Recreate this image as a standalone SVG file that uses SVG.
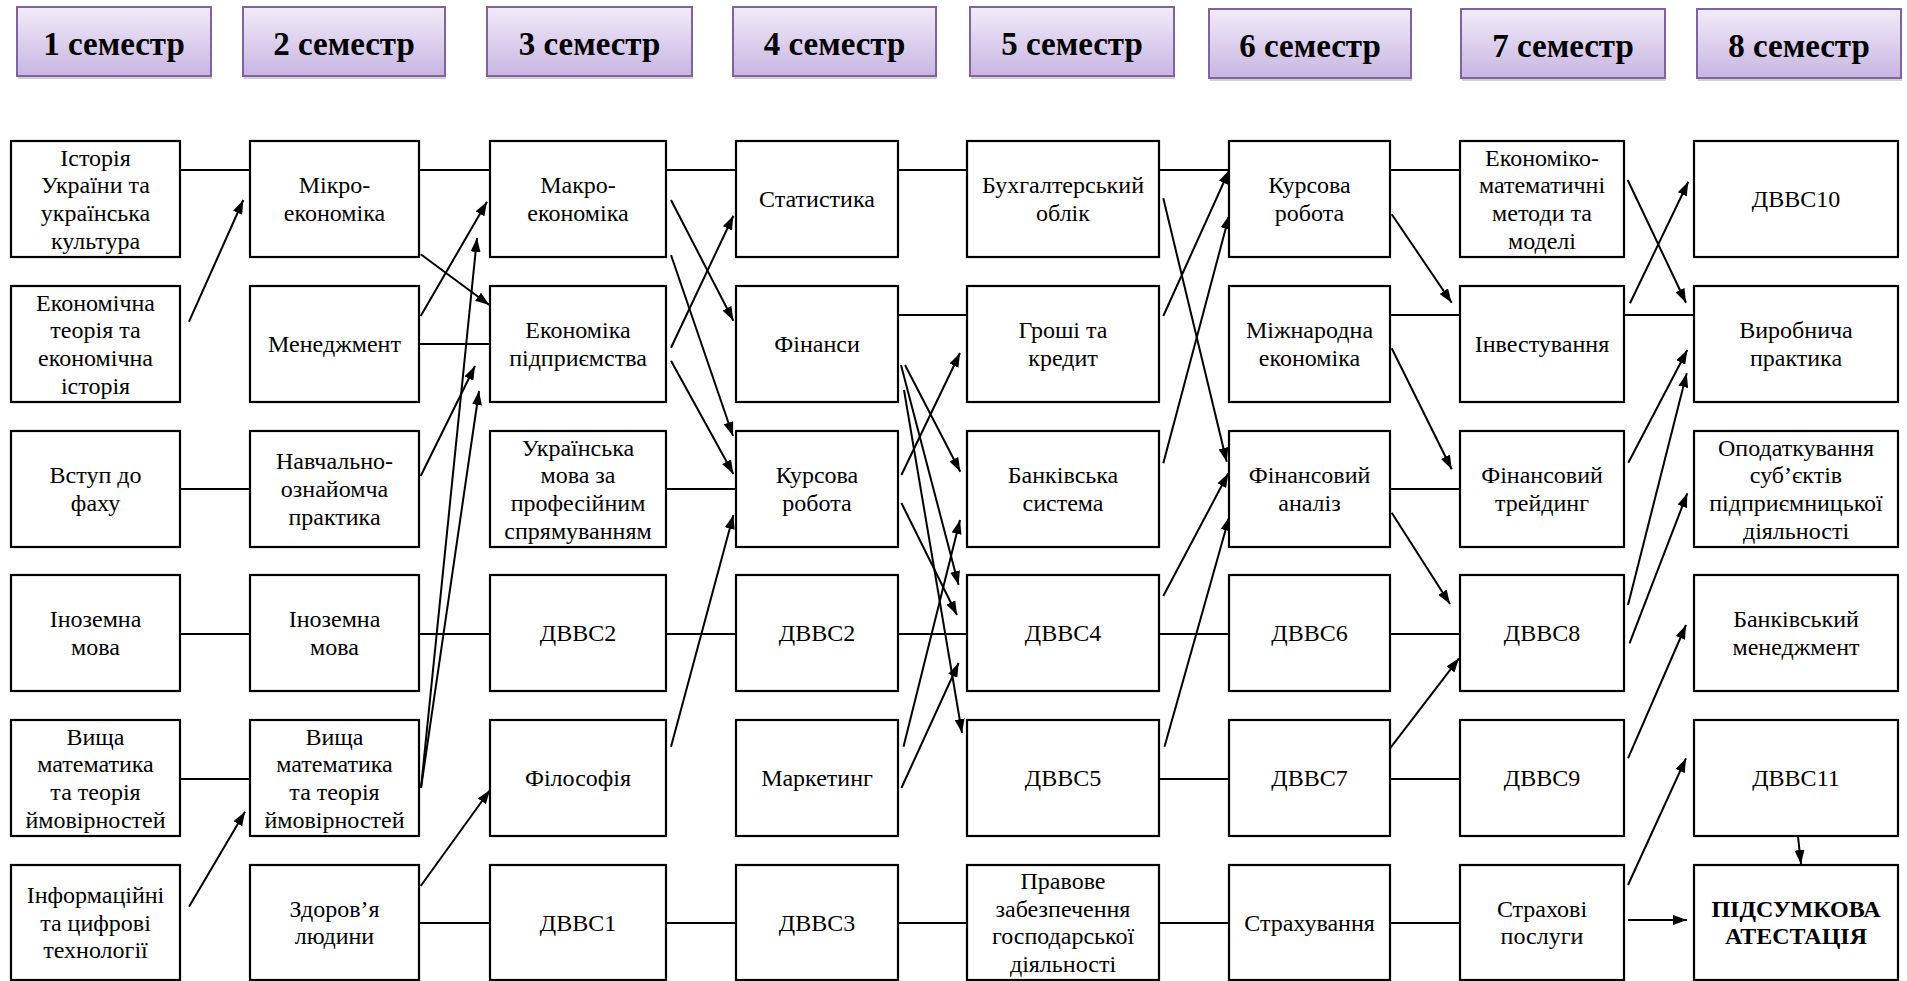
<svg xmlns="http://www.w3.org/2000/svg" width="1907" height="981" viewBox="0 0 1907 981">
<style>
.hs{fill:#000;opacity:0.18}
.hb{fill:url(#hg);stroke:#7F63A1;stroke-width:2}
.ht{font-weight:bold;font-size:33px;fill:#000;text-anchor:middle}
.nb{fill:#fff;stroke:#000;stroke-width:2.2}
.nt{font-size:24px;fill:#000;text-anchor:middle}
.bt{font-weight:bold}
.ln{stroke:#000;stroke-width:2;fill:none}
.ar{stroke:#000;stroke-width:2;fill:none;marker-end:url(#ah)}
</style>
<defs>
<linearGradient id="hg" x1="0" y1="0" x2="0" y2="1">
<stop offset="0" stop-color="#F1ECF8"/>
<stop offset="1" stop-color="#C8B5E3"/>
</linearGradient>
<marker id="ah" viewBox="0 0 14 10" refX="14" refY="5" markerWidth="14" markerHeight="10" markerUnits="userSpaceOnUse" orient="auto">
<path d="M0,0 L14,5 L0,10 z" fill="#000"/>
</marker>
</defs>
<rect width="1907" height="981" fill="#fff"/>

<g id="headers" font-family="Liberation Serif, serif">
<g id="h1"><rect class="hs" x="18" y="10" width="194" height="69"/><rect class="hb" x="17" y="7" width="194" height="69"/><text class="ht" x="114" y="55">1 семестр</text></g>
<g id="h2"><rect class="hs" x="244" y="10" width="202" height="69"/><rect class="hb" x="243" y="7" width="202" height="69"/><text class="ht" x="344" y="55">2 семестр</text></g>
<g id="h3"><rect class="hs" x="488" y="10" width="205" height="69"/><rect class="hb" x="487" y="7" width="205" height="69"/><text class="ht" x="589.5" y="55">3 семестр</text></g>
<g id="h4"><rect class="hs" x="734" y="10" width="203" height="69"/><rect class="hb" x="733" y="7" width="203" height="69"/><text class="ht" x="834.5" y="55">4 семестр</text></g>
<g id="h5"><rect class="hs" x="971" y="10" width="204" height="69"/><rect class="hb" x="970" y="7" width="204" height="69"/><text class="ht" x="1072" y="55">5 семестр</text></g>
<g id="h6"><rect class="hs" x="1210" y="12" width="202" height="69"/><rect class="hb" x="1209" y="9" width="202" height="69"/><text class="ht" x="1310" y="57">6 семестр</text></g>
<g id="h7"><rect class="hs" x="1462" y="12" width="204" height="69"/><rect class="hb" x="1461" y="9" width="204" height="69"/><text class="ht" x="1563" y="57">7 семестр</text></g>
<g id="h8"><rect class="hs" x="1698" y="12" width="204" height="69"/><rect class="hb" x="1697" y="9" width="204" height="69"/><text class="ht" x="1799" y="57">8 семестр</text></g>
</g>

<g id="connectors">
<path class="ln" d="M180,170H250 M419,170H490 M666,170H736 M898,170H967 M1159,170H1229 M1390,170H1460"/>
<path class="ln" d="M419,344H490 M898,315H967 M1390,315H1460 M1624,315H1694"/>
<path class="ln" d="M180,489H250 M666,489H736 M1390,489H1460"/>
<path class="ln" d="M180,634H250 M419,634H490 M666,634H736 M898,634H967 M1159,634H1229 M1390,634H1460"/>
<path class="ln" d="M180,779H250 M1159,779H1229 M1390,779H1460"/>
<path class="ln" d="M419,923H490 M666,923H736 M898,923H967 M1159,923H1229 M1390,923H1460"/>
<line class="ar" x1="189" y1="321.7" x2="243.3" y2="200"/>
<line class="ar" x1="420.7" y1="254.3" x2="489.3" y2="305"/>
<line class="ar" x1="420.7" y1="316" x2="487" y2="201.7"/>
<line class="ar" x1="421" y1="788" x2="477" y2="238"/>
<line class="ar" x1="420.7" y1="476" x2="475" y2="366"/>
<line class="ar" x1="421" y1="788" x2="479" y2="391"/>
<line class="ar" x1="189" y1="906.7" x2="245" y2="811.7"/>
<line class="ar" x1="420.7" y1="886" x2="490" y2="790"/>
<line class="ar" x1="671" y1="200" x2="733.4" y2="320.7"/>
<line class="ar" x1="671" y1="255" x2="733" y2="436"/>
<line class="ar" x1="671" y1="347.7" x2="733.4" y2="215.7"/>
<line class="ar" x1="671" y1="360.7" x2="733.4" y2="474"/>
<line class="ar" x1="671" y1="746.7" x2="733.4" y2="515"/>
<line class="ar" x1="901.4" y1="475" x2="960" y2="353"/>
<line class="ar" x1="905" y1="365" x2="960.3" y2="471.7"/>
<line class="ar" x1="901" y1="365" x2="958.6" y2="585"/>
<line class="ar" x1="901.4" y1="503" x2="957" y2="615"/>
<line class="ar" x1="904" y1="390" x2="962" y2="733"/>
<line class="ar" x1="903.5" y1="746.7" x2="960" y2="520"/>
<line class="ar" x1="901.4" y1="788" x2="958.6" y2="663"/>
<line class="ar" x1="1163.3" y1="198.3" x2="1226.7" y2="461.7"/>
<line class="ar" x1="1163.3" y1="316" x2="1229.3" y2="170"/>
<line class="ar" x1="1163.3" y1="463.3" x2="1229.3" y2="215"/>
<line class="ar" x1="1163.3" y1="596" x2="1228.3" y2="473.3"/>
<line class="ar" x1="1164.5" y1="746.7" x2="1229.3" y2="516.7"/>
<line class="ar" x1="1391.7" y1="214.3" x2="1451.7" y2="302.7"/>
<line class="ar" x1="1391.7" y1="348.3" x2="1451.7" y2="469.3"/>
<line class="ar" x1="1391.7" y1="512.7" x2="1450" y2="604"/>
<line class="ar" x1="1390" y1="748.3" x2="1459" y2="658.3"/>
<line class="ar" x1="1627.7" y1="180" x2="1686" y2="302.7"/>
<line class="ar" x1="1630" y1="303.3" x2="1688.3" y2="181.7"/>
<line class="ar" x1="1628.3" y1="462.7" x2="1687.3" y2="350"/>
<line class="ar" x1="1628" y1="605" x2="1686.7" y2="373.3"/>
<line class="ar" x1="1629.5" y1="643.3" x2="1687.3" y2="493.3"/>
<line class="ar" x1="1628" y1="758.3" x2="1686" y2="625"/>
<line class="ar" x1="1628" y1="885" x2="1686" y2="758.3"/>
<line class="ar" x1="1628" y1="920" x2="1687" y2="920" stroke-width="3.2"/>
<line class="ar" x1="1798" y1="836.7" x2="1801" y2="864"/>
</g>

<g id="nodes" font-family="Liberation Serif, serif">
<g id="c1r1"><rect class="nb" x="11" y="141" width="169" height="116"/><text class="nt"><tspan x="95.5" y="165.5">Історія</tspan><tspan x="95.5" y="193.2">України та</tspan><tspan x="95.5" y="220.9">українська</tspan><tspan x="95.5" y="248.6">культура</tspan></text></g>
<g id="c1r2"><rect class="nb" x="11" y="286" width="169" height="116"/><text class="nt"><tspan x="95.5" y="310.5">Економічна</tspan><tspan x="95.5" y="338.2">теорія та</tspan><tspan x="95.5" y="365.9">економічна</tspan><tspan x="95.5" y="393.6">історія</tspan></text></g>
<g id="c1r3"><rect class="nb" x="11" y="431" width="169" height="116"/><text class="nt"><tspan x="95.5" y="483.2">Вступ до</tspan><tspan x="95.5" y="510.9">фаху</tspan></text></g>
<g id="c1r4"><rect class="nb" x="11" y="575" width="169" height="116"/><text class="nt"><tspan x="95.5" y="627.2">Іноземна</tspan><tspan x="95.5" y="654.9">мова</tspan></text></g>
<g id="c1r5"><rect class="nb" x="11" y="720" width="169" height="116"/><text class="nt"><tspan x="95.5" y="744.5">Вища</tspan><tspan x="95.5" y="772.2">математика</tspan><tspan x="95.5" y="799.9">та теорія</tspan><tspan x="95.5" y="827.6">ймовірностей</tspan></text></g>
<g id="c1r6"><rect class="nb" x="11" y="865" width="169" height="115"/><text class="nt"><tspan x="95.5" y="902.8">Інформаційні</tspan><tspan x="95.5" y="930.5">та цифрові</tspan><tspan x="95.5" y="958.2">технології</tspan></text></g>

<g id="c2r1"><rect class="nb" x="250" y="141" width="169" height="116"/><text class="nt"><tspan x="334.5" y="193.2">Мікро-</tspan><tspan x="334.5" y="220.9">економіка</tspan></text></g>
<g id="c2r2"><rect class="nb" x="250" y="286" width="169" height="116"/><text class="nt" x="334.5" y="352">Менеджмент</text></g>
<g id="c2r3"><rect class="nb" x="250" y="431" width="169" height="116"/><text class="nt"><tspan x="334.5" y="469.3">Навчально-</tspan><tspan x="334.5" y="497">ознайомча</tspan><tspan x="334.5" y="524.7">практика</tspan></text></g>
<g id="c2r4"><rect class="nb" x="250" y="575" width="169" height="116"/><text class="nt"><tspan x="334.5" y="627.2">Іноземна</tspan><tspan x="334.5" y="654.9">мова</tspan></text></g>
<g id="c2r5"><rect class="nb" x="250" y="720" width="169" height="116"/><text class="nt"><tspan x="334.5" y="744.5">Вища</tspan><tspan x="334.5" y="772.2">математика</tspan><tspan x="334.5" y="799.9">та теорія</tspan><tspan x="334.5" y="827.6">ймовірностей</tspan></text></g>
<g id="c2r6"><rect class="nb" x="250" y="865" width="169" height="115"/><text class="nt"><tspan x="334.5" y="916.7">Здоров’я</tspan><tspan x="334.5" y="944.4">людини</tspan></text></g>

<g id="c3r1"><rect class="nb" x="490" y="141" width="176" height="116"/><text class="nt"><tspan x="578" y="193.2">Макро-</tspan><tspan x="578" y="220.9">економіка</tspan></text></g>
<g id="c3r2"><rect class="nb" x="490" y="286" width="176" height="116"/><text class="nt"><tspan x="578" y="338.2">Економіка</tspan><tspan x="578" y="365.9">підприємства</tspan></text></g>
<g id="c3r3"><rect class="nb" x="490" y="431" width="176" height="116"/><text class="nt"><tspan x="578" y="455.5">Українська</tspan><tspan x="578" y="483.2">мова за</tspan><tspan x="578" y="510.9">професійним</tspan><tspan x="578" y="538.6">спрямуванням</tspan></text></g>
<g id="c3r4"><rect class="nb" x="490" y="575" width="176" height="116"/><text class="nt" x="578" y="641">ДВВС2</text></g>
<g id="c3r5"><rect class="nb" x="490" y="720" width="176" height="116"/><text class="nt" x="578" y="786">Філософія</text></g>
<g id="c3r6"><rect class="nb" x="490" y="865" width="176" height="115"/><text class="nt" x="578" y="930.5">ДВВС1</text></g>

<g id="c4r1"><rect class="nb" x="736" y="141" width="162" height="116"/><text class="nt" x="817" y="207">Статистика</text></g>
<g id="c4r2"><rect class="nb" x="736" y="286" width="162" height="116"/><text class="nt" x="817" y="352">Фінанси</text></g>
<g id="c4r3"><rect class="nb" x="736" y="431" width="162" height="116"/><text class="nt"><tspan x="817" y="483.2">Курсова</tspan><tspan x="817" y="510.9">робота</tspan></text></g>
<g id="c4r4"><rect class="nb" x="736" y="575" width="162" height="116"/><text class="nt" x="817" y="641">ДВВС2</text></g>
<g id="c4r5"><rect class="nb" x="736" y="720" width="162" height="116"/><text class="nt" x="817" y="786">Маркетинг</text></g>
<g id="c4r6"><rect class="nb" x="736" y="865" width="162" height="115"/><text class="nt" x="817" y="930.5">ДВВС3</text></g>

<g id="c5r1"><rect class="nb" x="967" y="141" width="192" height="116"/><text class="nt"><tspan x="1063" y="193.2">Бухгалтерський</tspan><tspan x="1063" y="220.9">облік</tspan></text></g>
<g id="c5r2"><rect class="nb" x="967" y="286" width="192" height="116"/><text class="nt"><tspan x="1063" y="338.2">Гроші та</tspan><tspan x="1063" y="365.9">кредит</tspan></text></g>
<g id="c5r3"><rect class="nb" x="967" y="431" width="192" height="116"/><text class="nt"><tspan x="1063" y="483.2">Банківська</tspan><tspan x="1063" y="510.9">система</tspan></text></g>
<g id="c5r4"><rect class="nb" x="967" y="575" width="192" height="116"/><text class="nt" x="1063" y="641">ДВВС4</text></g>
<g id="c5r5"><rect class="nb" x="967" y="720" width="192" height="116"/><text class="nt" x="1063" y="786">ДВВС5</text></g>
<g id="c5r6"><rect class="nb" x="967" y="865" width="192" height="115"/><text class="nt"><tspan x="1063" y="889">Правове</tspan><tspan x="1063" y="916.7">забезпечення</tspan><tspan x="1063" y="944.4">господарської</tspan><tspan x="1063" y="972.1">діяльності</tspan></text></g>

<g id="c6r1"><rect class="nb" x="1229" y="141" width="161" height="116"/><text class="nt"><tspan x="1309.5" y="193.2">Курсова</tspan><tspan x="1309.5" y="220.9">робота</tspan></text></g>
<g id="c6r2"><rect class="nb" x="1229" y="286" width="161" height="116"/><text class="nt"><tspan x="1309.5" y="338.2">Міжнародна</tspan><tspan x="1309.5" y="365.9">економіка</tspan></text></g>
<g id="c6r3"><rect class="nb" x="1229" y="431" width="161" height="116"/><text class="nt"><tspan x="1309.5" y="483.2">Фінансовий</tspan><tspan x="1309.5" y="510.9">аналіз</tspan></text></g>
<g id="c6r4"><rect class="nb" x="1229" y="575" width="161" height="116"/><text class="nt" x="1309.5" y="641">ДВВС6</text></g>
<g id="c6r5"><rect class="nb" x="1229" y="720" width="161" height="116"/><text class="nt" x="1309.5" y="786">ДВВС7</text></g>
<g id="c6r6"><rect class="nb" x="1229" y="865" width="161" height="115"/><text class="nt" x="1309.5" y="930.5">Страхування</text></g>

<g id="c7r1"><rect class="nb" x="1460" y="141" width="164" height="116"/><text class="nt"><tspan x="1542" y="165.5">Економіко-</tspan><tspan x="1542" y="193.2">математичні</tspan><tspan x="1542" y="220.9">методи та</tspan><tspan x="1542" y="248.6">моделі</tspan></text></g>
<g id="c7r2"><rect class="nb" x="1460" y="286" width="164" height="116"/><text class="nt" x="1542" y="352">Інвестування</text></g>
<g id="c7r3"><rect class="nb" x="1460" y="431" width="164" height="116"/><text class="nt"><tspan x="1542" y="483.2">Фінансовий</tspan><tspan x="1542" y="510.9">трейдинг</tspan></text></g>
<g id="c7r4"><rect class="nb" x="1460" y="575" width="164" height="116"/><text class="nt" x="1542" y="641">ДВВС8</text></g>
<g id="c7r5"><rect class="nb" x="1460" y="720" width="164" height="116"/><text class="nt" x="1542" y="786">ДВВС9</text></g>
<g id="c7r6"><rect class="nb" x="1460" y="865" width="164" height="115"/><text class="nt"><tspan x="1542" y="916.7">Страхові</tspan><tspan x="1542" y="944.4">послуги</tspan></text></g>

<g id="c8r1"><rect class="nb" x="1694" y="141" width="204" height="116"/><text class="nt" x="1796" y="207">ДВВС10</text></g>
<g id="c8r2"><rect class="nb" x="1694" y="286" width="204" height="116"/><text class="nt"><tspan x="1796" y="338.2">Виробнича</tspan><tspan x="1796" y="365.9">практика</tspan></text></g>
<g id="c8r3"><rect class="nb" x="1694" y="431" width="204" height="116"/><text class="nt"><tspan x="1796" y="455.5">Оподаткування</tspan><tspan x="1796" y="483.2">суб’єктів</tspan><tspan x="1796" y="510.9">підприємницької</tspan><tspan x="1796" y="538.6">діяльності</tspan></text></g>
<g id="c8r4"><rect class="nb" x="1694" y="575" width="204" height="116"/><text class="nt"><tspan x="1796" y="627.2">Банківський</tspan><tspan x="1796" y="654.9">менеджмент</tspan></text></g>
<g id="c8r5"><rect class="nb" x="1694" y="720" width="204" height="116"/><text class="nt" x="1796" y="786">ДВВС11</text></g>
<g id="c8r6"><rect class="nb" x="1694" y="865" width="204" height="115"/><text class="nt bt"><tspan x="1796" y="916.7">ПІДСУМКОВА</tspan><tspan x="1796" y="944.4">АТЕСТАЦІЯ</tspan></text></g>
</g>
</svg>
